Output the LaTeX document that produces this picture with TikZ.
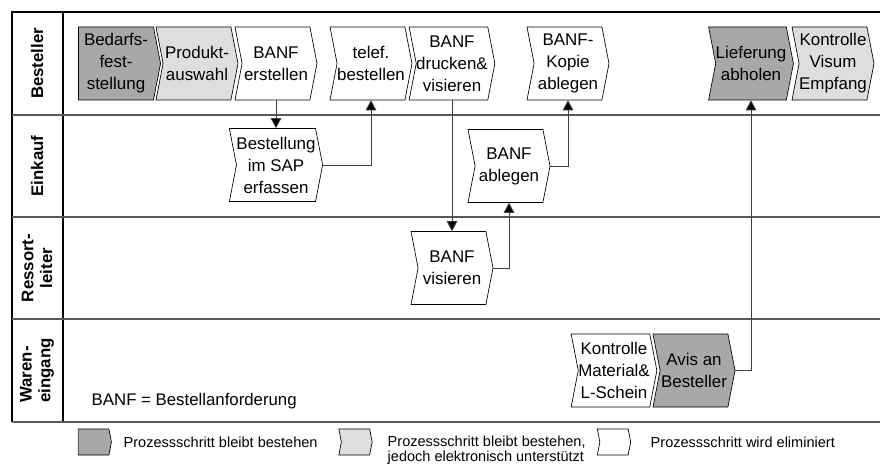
\documentclass[tikz,border=0pt]{standalone}
\usepackage{fontspec}
\setmainfont{Liberation Sans}
\usetikzlibrary{arrows.meta,shapes.symbols}
\definecolor{keepgray}{gray}{0.66}
\definecolor{elecgray}{gray}{0.87}
\tikzset{
  stepbox/.style={
    shape=signal, signal to=east, signal from=west,
    signal pointer angle=158,
    draw=black, line width=0.5pt, fill=white,
    minimum width=61.5pt, minimum height=54.75pt,
    inner sep=0pt, align=center,
    font=\fontsize{12.7}{16.5}\selectfont
  },
  startbox/.style={stepbox, signal from=nowhere},
  keep/.style={fill=keepgray},
  elec/.style={fill=elecgray},
  flow/.style={
    -{Triangle[length=7.5pt,width=8pt,fill=black]}, draw=black!75,
    line width=0.6pt
  },
  lane label/.style={
    rotate=90, font=\bfseries\fontsize{12.6}{14}\selectfont
  },
  lane line/.style={draw=black!65, line width=1.1pt},
  legend box/.style={
    stepbox, minimum width=25pt, minimum height=19.5pt
  },
  legend text/.style={
    anchor=west, align=left, font=\fontsize{10.9}{11.5}\selectfont
  },
}

\begin{document}
\begin{tikzpicture}[x=0.75pt, y=-0.75pt]
  \useasboundingbox (0,0) rectangle (880,466);

  % Swimlanes
  \draw[line width=0.8pt] (880,12) -- (12,12) -- (12,422);
  \draw[line width=0.8pt] (63,12) -- (63,422);
  \foreach \y in {115,217,319,422}
    \draw[lane line] (12,\y) -- (880,\y);

  \node[lane label] (lbest) at (37,63.5) {Besteller};
  \node[lane label] (lein) at (37,166) {Einkauf};
  \node[lane label, align=center] (lres) at (37,268) {Ressort-\\leiter};
  \node[lane label, align=left] (lwar) at (37,370.5) {Waren-\\eingang};

  % Besteller
  \node[startbox, keep] (bedarf) at (116,63.5) {Bedarfs-\\fest-\\stellung};
  \node[stepbox, elec] (produkt) at (197,63.5) {Produkt-\\auswahl};
  \node[stepbox] (erstellen) at (276,63.5) {BANF\\erstellen};
  \node[stepbox] (telef) at (371,63.5) {telef.\\bestellen};
  \node[stepbox] (drucken) at (452,63.5) {BANF\\drucken\&\\visieren};
  \node[stepbox] (kopie) at (568,63.5) {BANF-\\Kopie\\ablegen};
  \node[stepbox, keep] (liefer) at (751,63.5) {Lieferung\\abholen};
  \node[stepbox, elec] (visum) at (833,63.5) {Kontrolle\\Visum\\Empfang};

  % Einkauf
  \node[stepbox] (bestsap) at (276,165) {Bestellung\\im SAP\\erfassen};
  \node[stepbox] (ablegen) at (509,166) {BANF\\ablegen};

  % Ressortleiter
  \node[stepbox] (visieren) at (452,268) {BANF\\visieren};

  % Wareneingang
  \node[stepbox] (material) at (614,370.5) {Kontrolle\\Material\&\\L-Schein};
  \node[stepbox, keep] (avis) at (694,370.5) {Avis an\\Besteller};

  \node[anchor=west, font=\fontsize{12.6}{14}\selectfont] (abk) at (87,401)
    {BANF = Bestellanforderung};

  % Flows
  \draw[flow] (erstellen.south) -- (bestsap.north);
  \draw[flow] (bestsap.east) -| (telef.south);
  \draw[flow] (drucken.south) -- (visieren.north);
  \draw[flow] (visieren.east) -| (ablegen.south);
  \draw[flow] (ablegen.east) -| (kopie.south);
  \draw[flow] (avis.east) -| (liefer.south);

  % Legend
  \node[legend box, signal from=nowhere, keep] (leg1) at (93.5,442) {};
  \node[legend text] (legt1) at (119,442) {Prozessschritt bleibt bestehen};
  \node[legend box, elec] (leg2) at (355.5,442) {};
  \node[legend text] (legt2) at (383,450)
    {Prozessschritt bleibt bestehen,\\jedoch elektronisch unterstützt};
  \node[legend box] (leg3) at (614,442) {};
  \node[legend text] (legt3) at (646,442) {Prozessschritt wird eliminiert};

\end{tikzpicture}
\end{document}
